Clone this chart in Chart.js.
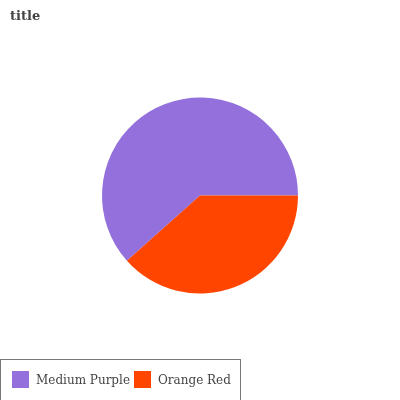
<!DOCTYPE html>
<html>
<head>
<meta charset="utf-8">
<script src="https://cdn.jsdelivr.net/npm/chart.js@4/dist/chart.umd.min.js"></script>
<style>
  html, body { margin: 0; padding: 0; background: #fff; }
  #wrap { position: relative; width: 400px; height: 400px; overflow: hidden; }
  #chart { position: absolute; left: 0; top: 0; }
  #title {
    position: absolute; left: 10px; top: 8px;
    font: bold 13px "DejaVu Serif", serif; color: #444;
  }
  #legend {
    position: absolute; left: 0; top: 359px; width: 241px; height: 50px;
    box-sizing: border-box; border: 1px solid #777;
    display: flex; align-items: flex-start; padding: 11px 0 0 11px;
    font: 12px "DejaVu Serif", serif; color: #444;
  }
  .item { display: flex; align-items: center; margin-right: 4px; }
  .swatch { width: 17px; height: 17px; margin-right: 7px; }
</style>
</head>
<body>
<div id="wrap">
  <canvas id="chart" width="400" height="400"></canvas>
  <div id="title">title</div>
  <div id="legend"></div>
</div>
<script>
// categories and values
const labels = ['Medium Purple', 'Orange Red'];
const values = [61.6, 38.4];
const colors = ['#9370DB', '#FF4500'];

// legend
const legendDiv = document.getElementById('legend');
labels.forEach((label, i) => {
    const item = document.createElement('div');
    item.className = 'item';
    item.innerHTML = `<div class="swatch" style="background:${colors[i]}"></div><span>${label}</span>`;
    legendDiv.appendChild(item);
});

// pie starts at the bottom-left edge so that the slices go the same way as the reference
const orangeShare = values[1] / (values[0] + values[1]);
const rotation = 90 - 360 * (1 - orangeShare) + 360;

new Chart(document.getElementById('chart'), {
    type: 'pie',
    data: {
        labels: labels,
        datasets: [{
            data: values,
            backgroundColor: colors,
            borderWidth: 0
        }]
    },
    options: {
        responsive: false,
        animation: false,
        rotation: rotation,
        layout: { padding: { top: 97.5, bottom: 106.5, left: 0, right: 0 } },
        plugins: {
            legend: { display: false },
            title: { display: false },
            tooltip: { enabled: false }
        }
    }
});
</script>
</body>
</html>
